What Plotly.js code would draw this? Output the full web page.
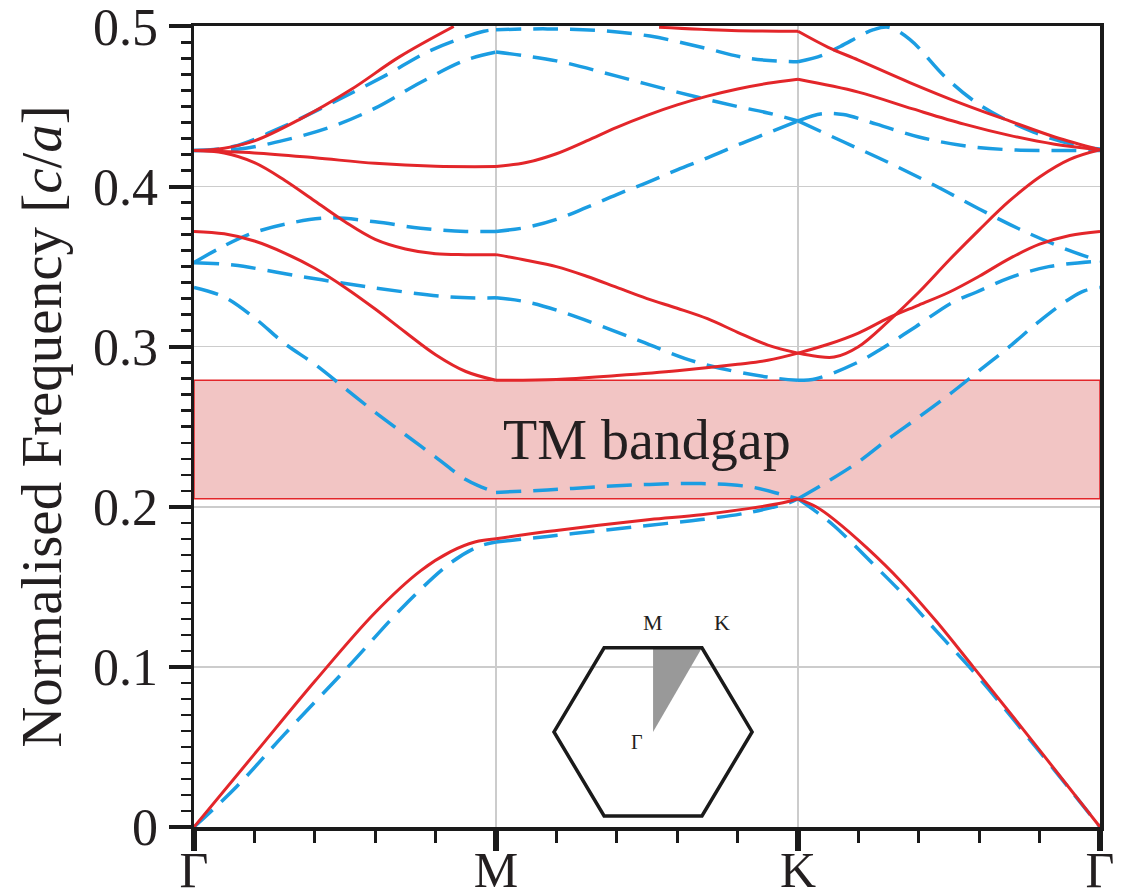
<!DOCTYPE html>
<html>
<head>
<meta charset="utf-8">
<script src="https://cdn.plot.ly/plotly-3.0.1.min.js"></script>
<style>
  html, body { margin: 0; padding: 0; background: #fff; }
  #chart { width: 1123px; height: 896px; }
</style>
</head>
<body>
<div id="chart"></div>
<script>
// ---- Path positions and labels (Γ → M → K → Γ) ----
const pathTickVals = [0, 1, 2, 3];
const pathTickText = ['Γ', 'M', 'K', 'Γ'];
const freqTickVals = [0, 0.1, 0.2, 0.3, 0.4, 0.5];
const freqTickText = ['0', '0.1', '0.2', '0.3', '0.4', '0.5'];

// ---- TM bandgap bounds ----
const gapLow = 0.205;
const gapHigh = 0.279;
const gapLabel = 'TM bandgap';

// ---- Red solid bands ----
const red1X = [0, 0.2, 0.4, 0.6, 0.75, 0.85, 0.93, 1, 1.17, 1.34, 1.51, 1.68, 1.84, 1.95, 2, 2.06, 2.12, 2.23, 2.338, 2.46, 2.58, 2.8, 3];
const red1Y = [0, 0.0455, 0.091, 0.134, 0.16, 0.172, 0.178, 0.18, 0.1845, 0.1885, 0.192, 0.195, 0.199, 0.2025, 0.205, 0.2, 0.192, 0.174, 0.154, 0.128, 0.1, 0.048, 0];

const red2X = [0, 0.1, 0.2, 0.3, 0.4, 0.5, 0.6, 0.7, 0.8, 0.9, 1, 1.2, 1.4, 1.6, 1.8, 1.9, 2, 2.1, 2.2, 2.3, 2.4, 2.5, 2.6, 2.7, 2.8, 2.9, 3];
const red2Y = [0.372, 0.3705, 0.366, 0.3585, 0.349, 0.337, 0.3235, 0.309, 0.295, 0.2845, 0.279, 0.2795, 0.282, 0.285, 0.289, 0.2915, 0.296, 0.3015, 0.3085, 0.318, 0.326, 0.334, 0.344, 0.355, 0.364, 0.3695, 0.372];

const red3X = [0, 0.1, 0.2, 0.3, 0.4, 0.5, 0.6, 0.7, 0.8, 0.9, 1, 1.1, 1.2, 1.3, 1.4, 1.5, 1.6, 1.7, 1.8, 1.9, 2, 2.06, 2.12, 2.2, 2.3, 2.4, 2.5, 2.6, 2.7, 2.8, 2.9, 3];
const red3Y = [0.4225, 0.421, 0.415, 0.404, 0.391, 0.378, 0.367, 0.361, 0.358, 0.3575, 0.3575, 0.354, 0.35, 0.344, 0.337, 0.33, 0.324, 0.3175, 0.309, 0.301, 0.296, 0.294, 0.2935, 0.3, 0.316, 0.334, 0.354, 0.373, 0.391, 0.406, 0.417, 0.423];

const red4X = [0, 0.2, 0.4, 0.6, 0.8, 1, 1.1, 1.2, 1.3, 1.4, 1.5, 1.6, 1.7, 1.8, 1.9, 2, 2.2, 2.38, 2.55, 2.7, 2.85, 3];
const red4Y = [0.4225, 0.421, 0.418, 0.4145, 0.4127, 0.4125, 0.415, 0.4205, 0.4285, 0.437, 0.4445, 0.451, 0.4565, 0.461, 0.4645, 0.467, 0.459, 0.4485, 0.439, 0.432, 0.4265, 0.423];

const red5X = [0, 0.1, 0.2, 0.35, 0.52, 0.68, 0.86, 1.2, 1.54, 1.78, 2, 2.1, 2.2, 2.37, 2.54, 2.7, 2.85, 3];
const red5Y = [0.4225, 0.424, 0.4285, 0.442, 0.4606, 0.481, 0.5, null, 0.4995, 0.4975, 0.497, 0.487, 0.479, 0.465, 0.452, 0.441, 0.431, 0.423];

// ---- Blue dashed bands ----
const blue1X = [0, 0.14, 0.3, 0.51, 0.7, 0.85, 0.94, 1, 1.17, 1.34, 1.51, 1.68, 1.84, 1.97, 2, 2.06, 2.12, 2.25, 2.35, 2.46, 2.6, 2.8, 3];
const blue1Y = [0, 0.025, 0.058, 0.1, 0.139, 0.165, 0.175, 0.178, 0.1815, 0.185, 0.1885, 0.192, 0.1965, 0.2025, 0.205, 0.197, 0.188, 0.164, 0.145, 0.122, 0.093, 0.047, 0];

const blue2X = [0, 0.1, 0.2, 0.3, 0.4, 0.5, 0.6, 0.7, 0.8, 0.9, 0.95, 1, 1.17, 1.34, 1.51, 1.68, 1.84, 1.95, 2, 2.1, 2.2, 2.3, 2.4, 2.5, 2.6, 2.7, 2.8, 2.9, 2.95, 3];
const blue2Y = [0.337, 0.331, 0.318, 0.302, 0.289, 0.274, 0.259, 0.245, 0.231, 0.217, 0.2125, 0.209, 0.2105, 0.2125, 0.214, 0.2145, 0.2125, 0.2075, 0.205, 0.216, 0.228, 0.2425, 0.256, 0.27, 0.285, 0.3, 0.316, 0.33, 0.335, 0.337];

const blue3X = [0, 0.13, 0.35, 0.57, 0.85, 1, 1.1, 1.23, 1.45, 1.67, 1.9, 2, 2.06, 2.195, 2.27, 2.39, 2.51, 2.59, 2.7, 2.83, 3];
const blue3Y = [0.3525, 0.351, 0.344, 0.3375, 0.331, 0.3305, 0.328, 0.321, 0.3056, 0.29, 0.281, 0.279, 0.28, 0.29, 0.298, 0.3125, 0.3275, 0.334, 0.343, 0.35, 0.3535];

const blue4X = [0, 0.08, 0.18, 0.3, 0.45, 0.6, 0.75, 0.9, 1, 1.1, 1.2, 1.3, 1.4, 1.5, 1.6, 1.7, 1.8, 1.9, 2, 2.08, 2.15, 2.26, 2.4, 2.55, 2.7, 2.85, 3];
const blue4Y = [0.3525, 0.361, 0.37, 0.3765, 0.3805, 0.378, 0.374, 0.372, 0.372, 0.3745, 0.3795, 0.387, 0.395, 0.4025, 0.4105, 0.418, 0.426, 0.4335, 0.441, 0.4455, 0.445, 0.439, 0.431, 0.4255, 0.423, 0.4225, 0.4225];

const blue5X = [0, 0.15, 0.3, 0.45, 0.6, 0.75, 0.9, 1, 1.2, 1.4, 1.6, 1.8, 1.9, 2, 2.15, 2.3, 2.45, 2.6, 2.75, 2.9, 3];
const blue5Y = [0.4225, 0.4235, 0.429, 0.437, 0.449, 0.465, 0.479, 0.484, 0.4785, 0.469, 0.459, 0.45, 0.446, 0.441, 0.428, 0.415, 0.401, 0.386, 0.372, 0.36, 0.3535];

const blue6X = [0, 0.13, 0.295, 0.46, 0.63, 0.79, 0.96, 1, 1.17, 1.34, 1.51, 1.68, 1.84, 2, 2.08, 2.14, 2.25, 2.3, 2.37, 2.49, 2.61, 2.78, 2.94, 3];
const blue6Y = [0.4225, 0.425, 0.4375, 0.4525, 0.469, 0.4856, 0.497, 0.498, 0.4985, 0.4975, 0.494, 0.487, 0.48, 0.478, 0.482, 0.4875, 0.498, 0.4995, 0.492, 0.468, 0.45, 0.434, 0.425, 0.4235];

// ---- Inset Brillouin-zone labels ----
const bzLabels = ['M', 'K', 'Γ'];

// ---- Styling ----
const RED = '#e3262a';
const BLUE = '#1b9de2';
const SERIF = '"Liberation Serif", "Times New Roman", serif';

// split a band at the high-symmetry points so each segment is smoothed separately
function segmented(xs, ys) {
  const X = [], Y = [];
  for (let s = 0; s < 3; s++) {
    for (let i = 0; i < xs.length; i++) {
      if (xs[i] >= s && xs[i] <= s + 1) { X.push(xs[i]); Y.push(ys[i]); }
    }
    if (s < 2) { X.push(null); Y.push(null); }
  }
  return { X, Y };
}

function band(xs, ys, color, dashed) {
  const d = segmented(xs, ys);
  return {
    type: 'scatter', mode: 'lines', x: d.X, y: d.Y,
    connectgaps: false, showlegend: false, hoverinfo: 'skip',
    line: { color: color, width: dashed ? 3.5 : 3, shape: 'spline', smoothing: 1,
            dash: dashed ? '25px,12px' : 'solid' }
  };
}

const traces = [];
// bandgap region
traces.push({
  type: 'scatter', mode: 'lines',
  x: [0, 3, 3, 0, 0], y: [gapLow, gapLow, gapHigh, gapHigh, gapLow],
  fill: 'toself', fillcolor: '#f2c5c4',
  line: { color: RED, width: 1.5 }, showlegend: false, hoverinfo: 'skip'
});
[[blue1X, blue1Y], [blue2X, blue2Y], [blue3X, blue3Y], [blue4X, blue4Y], [blue5X, blue5Y], [blue6X, blue6Y]]
  .forEach(b => traces.push(band(b[0], b[1], BLUE, true)));
[[red1X, red1Y], [red2X, red2Y], [red3X, red3Y], [red4X, red4Y], [red5X, red5Y]]
  .forEach(b => traces.push(band(b[0], b[1], RED, false)));

// inset hexagon geometry (decoration, in axis units)
const hx = 1.52, hy = 0.0594, hrx = 0.328, hry = 0.0525, htop = 0.162;
const hexPath = `M ${hx - htop},${hy + hry} L ${hx + htop},${hy + hry} L ${hx + hrx},${hy} L ${hx + htop},${hy - hry} L ${hx - htop},${hy - hry} L ${hx - hrx},${hy} Z`;
const wedgePath = `M ${hx},${hy} L ${hx},${hy + hry} L ${hx + htop},${hy + hry} Z`;

const layout = {
  width: 1123, height: 896,
  margin: { l: 194, r: 23, t: 26, b: 69 },
  paper_bgcolor: '#ffffff', plot_bgcolor: '#ffffff',
  font: { family: SERIF, color: '#231f20' },
  showlegend: false,
  xaxis: {
    range: [0, 3], tickmode: 'array', tickvals: pathTickVals, ticktext: pathTickText,
    ticks: 'outside', ticklen: 20, tickwidth: 6, tickcolor: '#1a1a1a',
    tickfont: { family: SERIF, size: 50, color: '#231f20' },
    ticklabelstandoff: -24, ticklabeloverflow: 'allow',
    showgrid: true, gridcolor: '#cccccc', gridwidth: 1.5,
    showline: true, linecolor: '#1a1a1a', linewidth: 3.5, mirror: true,
    zeroline: false, fixedrange: true,
    minor: { dtick: 0.2, tick0: 0, ticks: 'outside', ticklen: 12, tickwidth: 3, tickcolor: '#1a1a1a', showgrid: false }
  },
  yaxis: {
    range: [0, 0.5003], tickmode: 'array', tickvals: freqTickVals, ticktext: freqTickText,
    ticks: 'outside', ticklen: 22, tickwidth: 4, tickcolor: '#1a1a1a',
    tickfont: { family: SERIF, size: 52, color: '#231f20' },
    ticklabeloverflow: 'allow',
    showgrid: true, gridcolor: '#cccccc', gridwidth: 1.5,
    showline: true, linecolor: '#1a1a1a', linewidth: 3.5, mirror: true,
    zeroline: false, fixedrange: true,
    minor: { tickmode: 'linear', tick0: 0, dtick: 0.01, ticks: 'outside', ticklen: 10, tickwidth: 2.5, tickcolor: '#1a1a1a', showgrid: false },
    title: { text: 'Normalised Frequency [<i>c</i>/<i>a</i>]', font: { family: SERIF, size: 57, color: '#231f20' }, standoff: 14 }
  },
  shapes: [
    { type: 'path', xref: 'x', yref: 'y', path: wedgePath, fillcolor: '#999999', line: { width: 0 }, layer: 'above' },
    { type: 'path', xref: 'x', yref: 'y', path: hexPath, fillcolor: 'rgba(0,0,0,0)', line: { color: '#1a1a1a', width: 3.5 }, layer: 'above' }
  ],
  annotations: [
    { x: 1.5, y: (gapLow + gapHigh) / 2, xref: 'x', yref: 'y', text: gapLabel, showarrow: false,
      font: { family: SERIF, size: 56, color: '#231f20' } },
    { x: hx, y: hy + hry + 0.016, xref: 'x', yref: 'y', text: bzLabels[0], showarrow: false,
      font: { family: SERIF, size: 22, color: '#231f20' } },
    { x: hx + htop + 0.066, y: hy + hry + 0.016, xref: 'x', yref: 'y', text: bzLabels[1], showarrow: false,
      font: { family: SERIF, size: 22, color: '#231f20' } },
    { x: hx - 0.053, y: hy - 0.006, xref: 'x', yref: 'y', text: bzLabels[2], showarrow: false,
      font: { family: SERIF, size: 20, color: '#231f20' } }
  ]
};

Plotly.newPlot('chart', traces, layout, { displayModeBar: false, staticPlot: true });
</script>
</body>
</html>
